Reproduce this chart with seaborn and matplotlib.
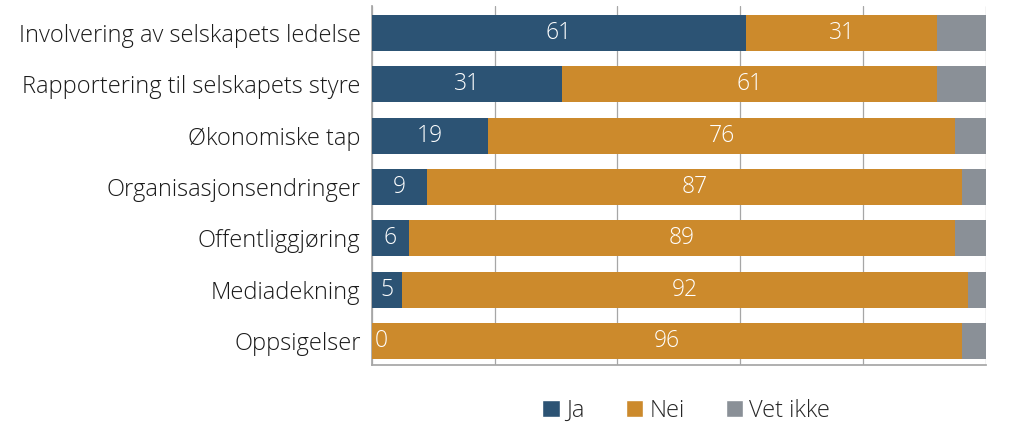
import matplotlib
matplotlib.use("Agg")
import matplotlib.pyplot as plt
import seaborn as sns
import pandas as pd
import numpy as np
from matplotlib.patches import Patch

categories = ["Involvering av selskapets ledelse", "Rapportering til selskapets styre",
              "Økonomiske tap", "Organisasjonsendringer", "Offentliggjøring",
              "Mediadekning", "Oppsigelser"]
ja = [61, 31, 19, 9, 6, 5, 0]
nei = [31, 61, 76, 87, 89, 92, 96]
vet_ikke = [8, 8, 5, 4, 5, 3, 4]
series_names = ["Ja", "Nei", "Vet ikke"]
colors = ["#2C5374", "#CC8A2C", "#8A9097"]

sns.set_theme(style="white")
plt.rcParams['font.family'] = ['Open Sans', 'DejaVu Sans']

fig, ax = plt.subplots(figsize=(10.24, 4.32), dpi=100)
fig.subplots_adjust(left=0.363, right=0.963, top=0.985, bottom=0.155)

df = pd.DataFrame({"cat": categories, "Ja": ja, "Nei": nei, "Vet ikke": vet_ikke})
cum = np.zeros(len(categories))
for name, col in zip(series_names, colors):
    vals = df[name].values
    tmp = pd.DataFrame({"cat": categories, "v": vals + cum})
    sns.barplot(data=tmp, y="cat", x="v", color=col, width=0.7, ax=ax,
                orient="h", saturation=1, label=name)
    cum = cum + vals

for i, cont in enumerate(ax.containers):
    for b in cont:
        b.set_zorder(10 - i)
        b.set_edgecolor("none")

for i in range(len(categories)):
    ax.text(max(ja[i] / 2, 1.6), i, str(ja[i]), color="white", ha="center", va="center",
            fontsize=16.5, fontweight="light", zorder=20)
    ax.text(ja[i] + nei[i] / 2, i, str(nei[i]), color="white", ha="center", va="center",
            fontsize=16.5, fontweight="light", zorder=20)

ax.set_xlim(0, 100)
ax.set_ylim(6.47, -0.517)
ax.set_xticks([0, 20, 40, 60, 80, 100])
ax.set_xticklabels([])
ax.xaxis.grid(True, color="#A6A6A6", linewidth=0.9, zorder=0)
ax.set_axisbelow(True)
ax.set_xlabel("")
ax.set_ylabel("")
ax.tick_params(axis="y", labelsize=17, length=0, pad=8, colors="#1a1a1a")
for lab in ax.get_yticklabels():
    lab.set_fontweight("light")
for s in ["top", "right"]:
    ax.spines[s].set_visible(False)
ax.spines["left"].set_color("#A6A6A6")
ax.spines["bottom"].set_color("#A6A6A6")

handles = [Patch(facecolor=c, label=n) for n, c in zip(series_names, colors)]
leg = ax.legend(handles=handles, loc="upper center", bbox_to_anchor=(0.512, -0.035), ncol=3,
                frameon=False, fontsize=17, handlelength=0.75, handleheight=0.75,
                handletextpad=0.25, columnspacing=1.75)
for t in leg.get_texts():
    t.set_fontweight("light")

fig.savefig("out.png", dpi=100)
